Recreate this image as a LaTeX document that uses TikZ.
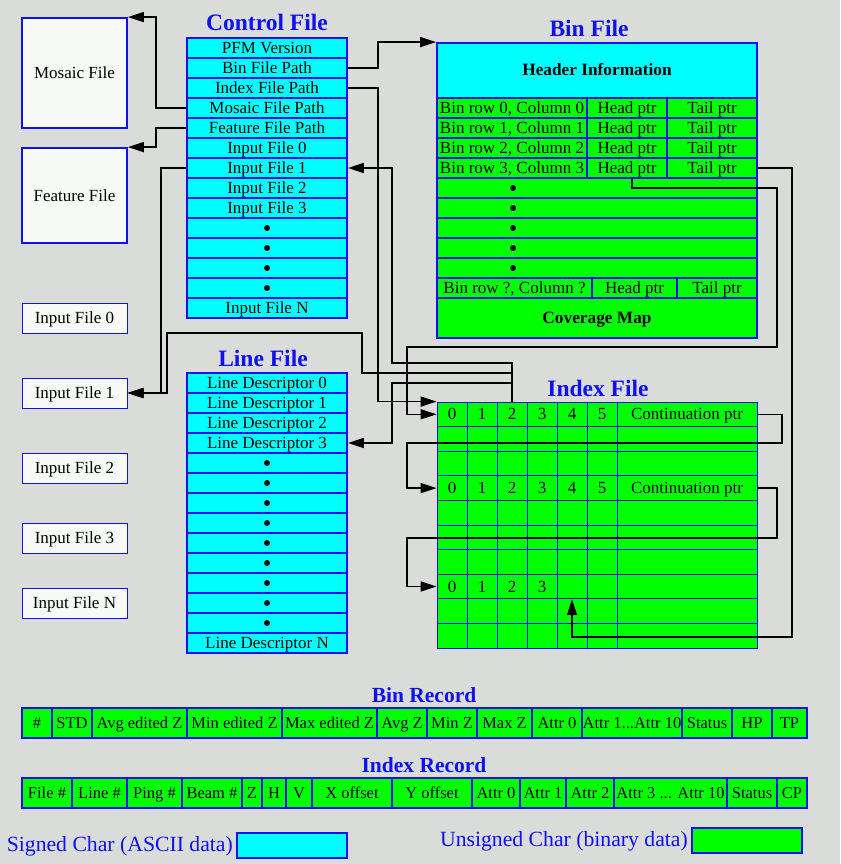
\documentclass[tikz,border=0pt]{standalone}
\usepackage{fontspec}
\setmainfont{Liberation Serif}
\usetikzlibrary{positioning,arrows.meta}
\definecolor{bggrey}{RGB}{217,220,217}
\definecolor{pfmblue}{RGB}{16,16,240}
\definecolor{ascii}{RGB}{0,255,255}
\definecolor{binary}{RGB}{0,255,0}
\definecolor{paper}{RGB}{248,250,248}
\newcommand\binattrs{Attr 1...Attr 10}
\newcommand\idxattrs{Attr 3 ... Attr 10}

\begin{document}
\begin{tikzpicture}[
    x=1pt, y=-1pt,
    cell/.style={
        draw=pfmblue,
        line width=1.8pt,
        inner sep=0pt,
        text height=13.5pt,
        text depth=2.5pt,
        font=\fontsize{17pt}{19pt}\selectfont
    },
    ascell/.style={cell, fill=ascii, minimum height=20pt},
    bincell/.style={cell, fill=binary, minimum height=20pt},
    idxcell/.style={bincell, line width=0.8pt, minimum height=24.6pt},
    reccell/.style={bincell, minimum height=30pt, font=\fontsize{16.5pt}{19pt}\selectfont},
    filebox/.style={cell, fill=paper, minimum width=105pt},
    celltext/.style={inner sep=0pt, text height=13.5pt, text depth=2.5pt,
        font=\fontsize{17pt}{19pt}\selectfont},
    dotmark/.style={circle, fill=black, inner sep=0pt, minimum size=6pt},
    boldtext/.style={font=\fontsize{17.3pt}{19pt}\selectfont\bfseries},
    title/.style={text=pfmblue, font=\fontsize{23.5pt}{26pt}\selectfont\bfseries},
    rectitle/.style={text=pfmblue, font=\fontsize{21.5pt}{24pt}\selectfont\bfseries},
    legend/.style={text=pfmblue, inner sep=0pt, font=\fontsize{21.7pt}{24pt}\selectfont},
    conn/.style={line width=1.6pt},
    >={Triangle[length=16pt,width=10pt]}
]
\fill[bggrey] (0,0) rectangle (840,864);

% control file
\node[title] (ctltitle) at (267,22) {Control File};
\foreach \txt [count=\i] in {PFM Version,Bin File Path,Index File Path,
    Mosaic File Path,Feature File Path,Input File 0,Input File 1,Input File 2,
    Input File 3,,,,,Input File N}
    \node[ascell, minimum width=160pt] (ctl\i) at (267,28+20*\i) {\txt};
\foreach \i in {10,...,13}
    \node[dotmark] (ctldot\i) at (ctl\i) {};

\node[filebox, minimum height=110pt] (mosaic) at (74.5,73) {Mosaic File};
\node[filebox, minimum height=95pt] (feature) at (74.5,195.5) {Feature File};
\foreach \n/\y in {0/318,1/393,2/468,3/538,N/603}
    \node[filebox, line width=1pt, minimum height=30pt] (in\n) at (74.5,\y) {Input File \n};

% line file
\node[title] (linetitle) at (263,358) {Line File};
\foreach \txt [count=\i] in {Line Descriptor 0,Line Descriptor 1,Line Descriptor 2,
    Line Descriptor 3,,,,,,,,,,Line Descriptor N}
    \node[ascell, minimum width=160pt] (ld\i) at (267,363+20*\i) {\txt};
\foreach \i in {5,...,13}
    \node[dotmark] (lddot\i) at (ld\i) {};

% bin file
\node[title] (bintitle) at (589,28) {Bin File};
\node[ascell, boldtext, minimum width=320pt, minimum height=55pt] (binhead) at (597,70.5) {Header Information};
\foreach \i in {0,...,3} {
    \node[bincell, minimum width=150pt] (bin\i-a) at (512,108+20*\i) {Bin row \i, Column \i};
    \node[bincell, minimum width=80pt] (bin\i-b) at (627,108+20*\i) {Head ptr};
    \node[bincell, minimum width=90pt] (bin\i-c) at (712,108+20*\i) {Tail ptr};
}
\foreach \i in {1,...,5} {
    \node[bincell, minimum width=320pt] (bindot\i) at (597,168+20*\i) {};
    \node[dotmark] (bdot\i) at (513,168+20*\i) {};
}
\node[bincell, minimum width=155pt] (binq-a) at (514.5,288) {Bin row ?, Column ?};
\node[bincell, minimum width=85pt] (binq-b) at (634.5,288) {Head ptr};
\node[bincell, minimum width=80pt] (binq-c) at (717,288) {Tail ptr};
\node[bincell, boldtext, minimum width=320pt, minimum height=40pt] (cover) at (597,318) {Coverage Map};

% index file
\node[title] (idxtitle) at (598,388) {Index File};
\foreach \r in {1,...,10} {
    \foreach \c in {1,...,6}
        \node[idxcell, minimum width=30pt] (idx-\r-\c) at (422+30*\c,389.7+24.6*\r) {};
    \node[idxcell, minimum width=140pt] (idx-\r-7) at (687,389.7+24.6*\r) {};
}
\foreach \r in {1,4}
    \foreach \c/\t in {1/0,2/1,3/2,4/3,5/4,6/5,7/Continuation ptr}
        \node[celltext] (idxt-\r-\c) at (idx-\r-\c) {\t};
\foreach \c/\t in {1/0,2/1,3/2,4/3}
    \node[celltext] (idxt-8-\c) at (idx-8-\c) {\t};

% records
\node[rectitle] (brectitle) at (424,695) {Bin Record};
\foreach \a/\b/\t [count=\i] in {22/52/\#,52/92/STD,92/187/Avg edited Z,
    187/282/Min edited Z,282/377/Max edited Z,377/427/Avg Z,427/477/Min Z,
    477/532/Max Z,532/582/Attr 0,582/682/\binattrs,682/732/Status,
    732/772/HP,772/807/TP}
    \node[reccell, minimum width={(\b-\a)*1pt}] (brec\i) at ({(\a+\b)/2},723) {\t};

\node[rectitle] (irectitle) at (424,765) {Index Record};
\foreach \a/\b/\t [count=\i] in {22/72/File \#,72/127/Line \#,127/182/Ping \#,
    182/242/Beam \#,242/262/Z,262/286/H,286/312/V,312/392/X offset,
    392/472/Y offset,472/520/Attr 0,520/566/Attr 1,566/614/Attr 2,
    614/727/\idxattrs,727/777/Status,777/807/CP}
    \node[reccell, minimum width={(\b-\a)*1pt}] (irec\i) at ({(\a+\b)/2},793) {\t};

% legend
\node[legend, anchor=east] (sgntxt) at (233,846) {Signed Char (ASCII data)};
\node[cell, fill=ascii, minimum width=110pt, minimum height=25pt] (sgnbox) at (292,845.5) {};
\node[legend, anchor=east] (unstxt) at (688,841) {Unsigned Char (binary data)};
\node[cell, fill=binary, minimum width=110pt, minimum height=25pt] (unsbox) at (747,840.5) {};

% pointers
\draw[conn,->] (ctl2.east) -- ++(30,0) |- (binhead.north west);
\draw[conn,->] (ctl3.east) -- ++(30,0) |- (idx-1-1.north west);
\draw[conn,->] (ctl4.west) -- ++(-30,0) |- (mosaic.north east);
\draw[conn,->] (ctl5.west) -- ++(-30,0) |- (feature.north east);
\draw[conn,->] (ctl7.west) -- ++(-25,0) |- (in1.east);
\draw[conn,->] (idx-1-3.north) |- (362,373) |- (167,333) |- (in1.east);
\draw[conn,->] (idx-1-3.north) |- (392,363) |- (ctl7.east);
\draw[conn,->] (idx-1-3.north) |- (392,383) |- (ld4.east);
\draw[conn,->] ([xshift=5pt]bin3-b.south) |- (777,188) |- (407,347) |- (idx-1-1.west);
\draw[conn,->] (bin3-c.east) -| (792,637) -| (idx-8-5.south);
\draw[conn,->] (idx-1-7.east) -| (782,443) -- (407,443) |- (idx-4-1.west);
\draw[conn,->] (idx-4-7.east) -| (777,538) -- (407,538) |- (idx-8-1.west);
\end{tikzpicture}
\end{document}
